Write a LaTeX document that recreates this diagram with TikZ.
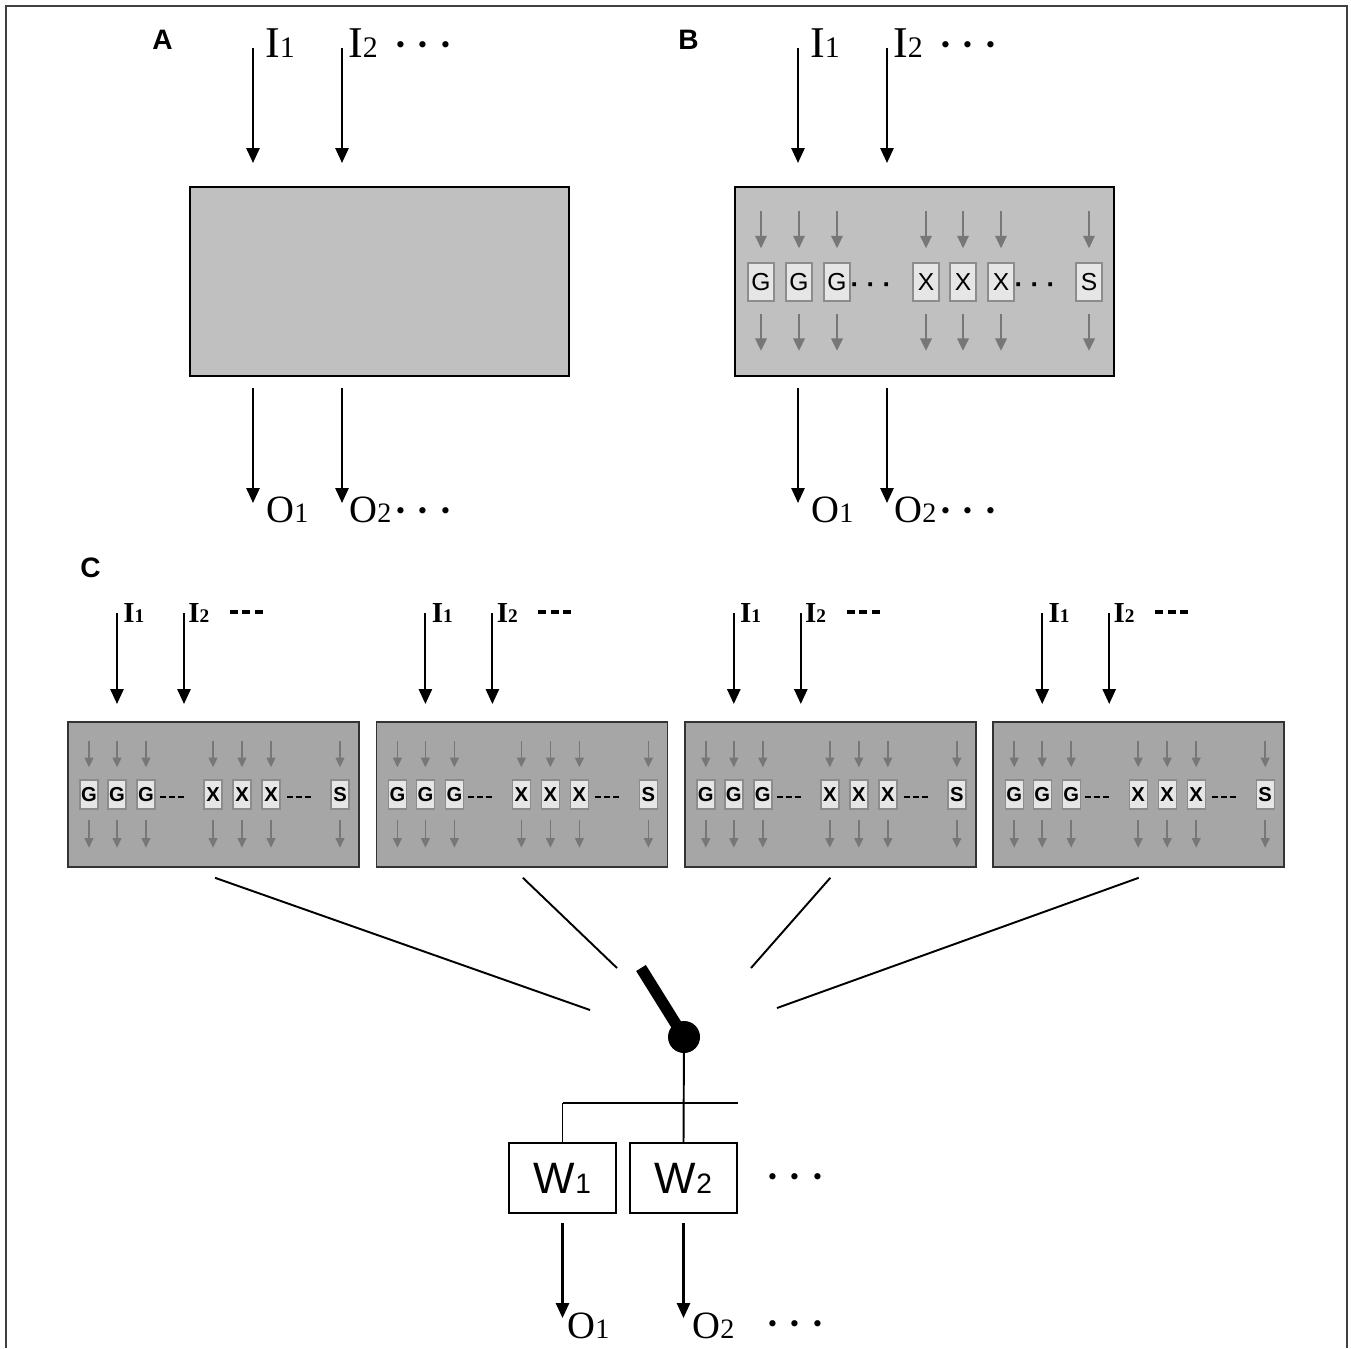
\documentclass[tikz,border=0pt]{standalone}
\usepackage{fontspec}
\setmainfont{Liberation Serif}
\setsansfont{Liberation Sans}
\usetikzlibrary{arrows.meta,calc}
\definecolor{boxA}{HTML}{C0C0C0}
\definecolor{boxC}{HTML}{A6A6A6}
\definecolor{smallfill}{HTML}{E6E6E6}
\definecolor{smallbd}{HTML}{8C8C8C}
\definecolor{garr}{HTML}{777777}
\newcommand{\fsz}[1]{\fontsize{#1}{#1}\selectfont}
\newcommand{\bigI}[1]{{\fsz{25}I}{\fsz{17}#1}}
\newcommand{\bigO}[1]{{\fsz{22}O}{\fsz{16}#1}}
\newcommand{\smallI}[1]{{\fsz{16.5}\bfseries I}{\fsz{11}\bfseries #1}}
\begin{document}
\begin{tikzpicture}[x=0.02cm,y=-0.02cm,
  bigarrow/.style={line width=1.2pt,-{Triangle[length=8.5pt,width=7.5pt]}},
  garrowB/.style={draw=garr,line width=1.1pt,-{Triangle[length=7pt,width=6.5pt]}},
  garrowC/.style={draw=garr,line width=1pt,-{Triangle[length=5.5pt,width=5pt]}},
  bigbox/.style={draw=black,line width=1.1pt,fill=boxA,inner sep=0pt},
  bigboxC/.style={draw=black!80,line width=0.9pt,fill=boxC,inner sep=0pt,
    minimum width=291*0.02cm,minimum height=145*0.02cm},
  sboxB/.style={draw=smallbd,line width=0.9pt,fill=smallfill,inner sep=0pt,
    minimum width=26*0.02cm,minimum height=38*0.02cm,font=\sffamily\fsz{14}},
  sboxC/.style={draw=smallbd,line width=0.8pt,fill=smallfill,inner sep=0pt,
    minimum width=18*0.02cm,minimum height=29*0.02cm,font=\sffamily\bfseries\fsz{11.5}},
  panel/.style={font=\sffamily\bfseries\fsz{16},anchor=base west,inner sep=0pt},
  lbl/.style={anchor=base west,inner sep=0pt},
  dots/.style={inner sep=0pt,font=\bfseries\fsz{22}},
  dashTop/.style={line width=2pt,dash pattern=on 4.5pt off 2.6pt},
  dashIn/.style={line width=1.6pt,dash pattern=on 3.4pt off 1.7pt},
  wbox/.style={draw=black,line width=0.7pt,fill=white,inner sep=0pt,
    minimum width=107*0.02cm,minimum height=70*0.02cm,font=\sffamily},
  thin/.style={line width=1.1pt}
]
\useasboundingbox (0,0) rectangle (1351,1348);
% frame
\draw[line width=1.3pt,black!75] (6,1348) -- (6,6) -- (1347,6) -- (1347,1348);

% ---------------- Panel A ----------------
\node[panel] (pA) at (152,50) {A};
\node[bigbox,minimum width=379*0.02cm,minimum height=189*0.02cm] (boxA) at (379.5,281.5) {};
\coordinate (aI1s) at (253,48); \coordinate (aI1e) at (253,163);
\coordinate (aI2s) at (342,48); \coordinate (aI2e) at (342,163);
\draw[bigarrow] (aI1s) -- (aI1e);
\draw[bigarrow] (aI2s) -- (aI2e);
\node[lbl] (aI1) at (265,58) {\bigI{1}};
\node[lbl] (aI2) at (348,58) {\bigI{2}};
\node[dots] (aId) at (423,50) {· · ·};
\coordinate (aO1s) at (253,388); \coordinate (aO1e) at (253,503);
\coordinate (aO2s) at (342,388); \coordinate (aO2e) at (342,503);
\draw[bigarrow] (aO1s) -- (aO1e);
\draw[bigarrow] (aO2s) -- (aO2e);
\node[lbl] (aO1) at (266,522) {\bigO{1}};
\node[lbl] (aO2) at (349,522) {\bigO{2}};
\node[dots] (aOd) at (423,516) {· · ·};

% ---------------- Panel B ----------------
\node[panel] (pB) at (678,50) {B};
\node[bigbox,minimum width=379*0.02cm,minimum height=189*0.02cm] (boxB) at (924.5,281.5) {};
\coordinate (bI1s) at (798,48); \coordinate (bI1e) at (798,163);
\coordinate (bI2s) at (887,48); \coordinate (bI2e) at (887,163);
\draw[bigarrow] (bI1s) -- (bI1e);
\draw[bigarrow] (bI2s) -- (bI2e);
\node[lbl] (bI1) at (810,58) {\bigI{1}};
\node[lbl] (bI2) at (893,58) {\bigI{2}};
\node[dots] (bId) at (968,50) {· · ·};
\coordinate (bO1s) at (798,388); \coordinate (bO1e) at (798,503);
\coordinate (bO2s) at (887,388); \coordinate (bO2e) at (887,503);
\draw[bigarrow] (bO1s) -- (bO1e);
\draw[bigarrow] (bO2s) -- (bO2e);
\node[lbl] (bO1) at (811,522) {\bigO{1}};
\node[lbl] (bO2) at (894,522) {\bigO{2}};
\node[dots] (bOd) at (968,516) {· · ·};
\foreach \x/\t [count=\i] in {26/G,64/G,102/G,191/X,228/X,266/X,354/S}{
  \node[sboxB] (bs\i) at (735+\x,282) {\t};
  \draw[garrowB] ($(bs\i.north)+(0,-51)$) -- ($(bs\i.north)+(0,-14)$);
  \draw[garrowB] ($(bs\i.south)+(0,12)$) -- ($(bs\i.south)+(0,49)$);
}
\node[inner sep=0pt,font=\sffamily\bfseries\fsz{15}] (bd1) at (871,288) {· · ·};
\node[inner sep=0pt,font=\sffamily\bfseries\fsz{15}] (bd2) at (1035,288) {· · ·};

% ---------------- Panel C ----------------
\node[panel] (pC) at (80,577) {C};
\foreach \k in {0,1,2,3}{
  \pgfmathsetmacro{\ox}{68+308.4*\k}
  \node[bigboxC] (c\k) at (\ox+145.5,794.5) {};
  \draw[bigarrow] (\ox+49,613) -- (\ox+49,704);
  \draw[bigarrow] (\ox+116,613) -- (\ox+116,704);
  \node[lbl] (cI1-\k) at (\ox+55,622) {\smallI{1}};
  \node[lbl] (cI2-\k) at (\ox+120,622) {\smallI{2}};
  \draw[dashTop] (\ox+162,612) -- (\ox+195,612);
  \foreach \x/\t [count=\i] in {21/G,49/G,78/G,145/X,174/X,203/X,272/S}{
    \node[sboxC] (cs\k-\i) at (\ox+\x,794.5) {\t};
    \draw[garrowC] ($(cs\k-\i.north)+(0,-38)$) -- ($(cs\k-\i.north)+(0,-12)$);
    \draw[garrowC] ($(cs\k-\i.south)+(0,10)$) -- ($(cs\k-\i.south)+(0,38)$);
  }
  \draw[dashIn] (\ox+92,797) -- (\ox+116,797);
  \draw[dashIn] (\ox+219,797) -- (\ox+243,797);
}
% switch
\node[circle,fill=black,inner sep=0pt,minimum size=32*0.02cm] (sw) at (684,1037) {};
\coordinate (lever) at (641,968);
\draw[line width=6.5pt] (lever) -- (sw.center);
\coordinate (e0) at (590,1010);
\coordinate (e1) at (617,968);
\coordinate (e2) at (751,968);
\coordinate (e3) at (777,1008);
\draw[thin] ($(c0.south)+(1.5,10)$) -- (e0);
\draw[thin] ($(c1.south)+(1,10)$) -- (e1);
\draw[thin] ($(c2.south)+(0,10)$) -- (e2);
\draw[thin] ($(c3.south)+(0,10)$) -- (e3);
% W boxes
\node[wbox] (W1) at (562.5,1178) {{\fsz{25}W}{\fsz{16}1}};
\node[wbox] (W2) at (683.5,1178) {{\fsz{25}W}{\fsz{16}2}};
\node[dots] (wd) at (795,1182) {· · ·};
\coordinate (barL) at (562.5,1103);
\coordinate (barR) at (738,1103);
\draw[thin] (sw.center) -- (W2.north);
\draw[thin] (barL) -- (barR);
\draw[thin] (barL) -- (W1.north);
\coordinate (cO1s) at (562.5,1223); \coordinate (cO1e) at (562.5,1318);
\coordinate (cO2s) at (683.5,1223); \coordinate (cO2e) at (683.5,1318);
\draw[bigarrow] (cO1s) -- (cO1e);
\draw[bigarrow] (cO2s) -- (cO2e);
\node[lbl] (cO1) at (567,1338) {\bigO{1}};
\node[lbl] (cO2) at (692,1338) {\bigO{2}};
\node[dots] (cOd) at (795,1329) {· · ·};
\end{tikzpicture}
\end{document}
